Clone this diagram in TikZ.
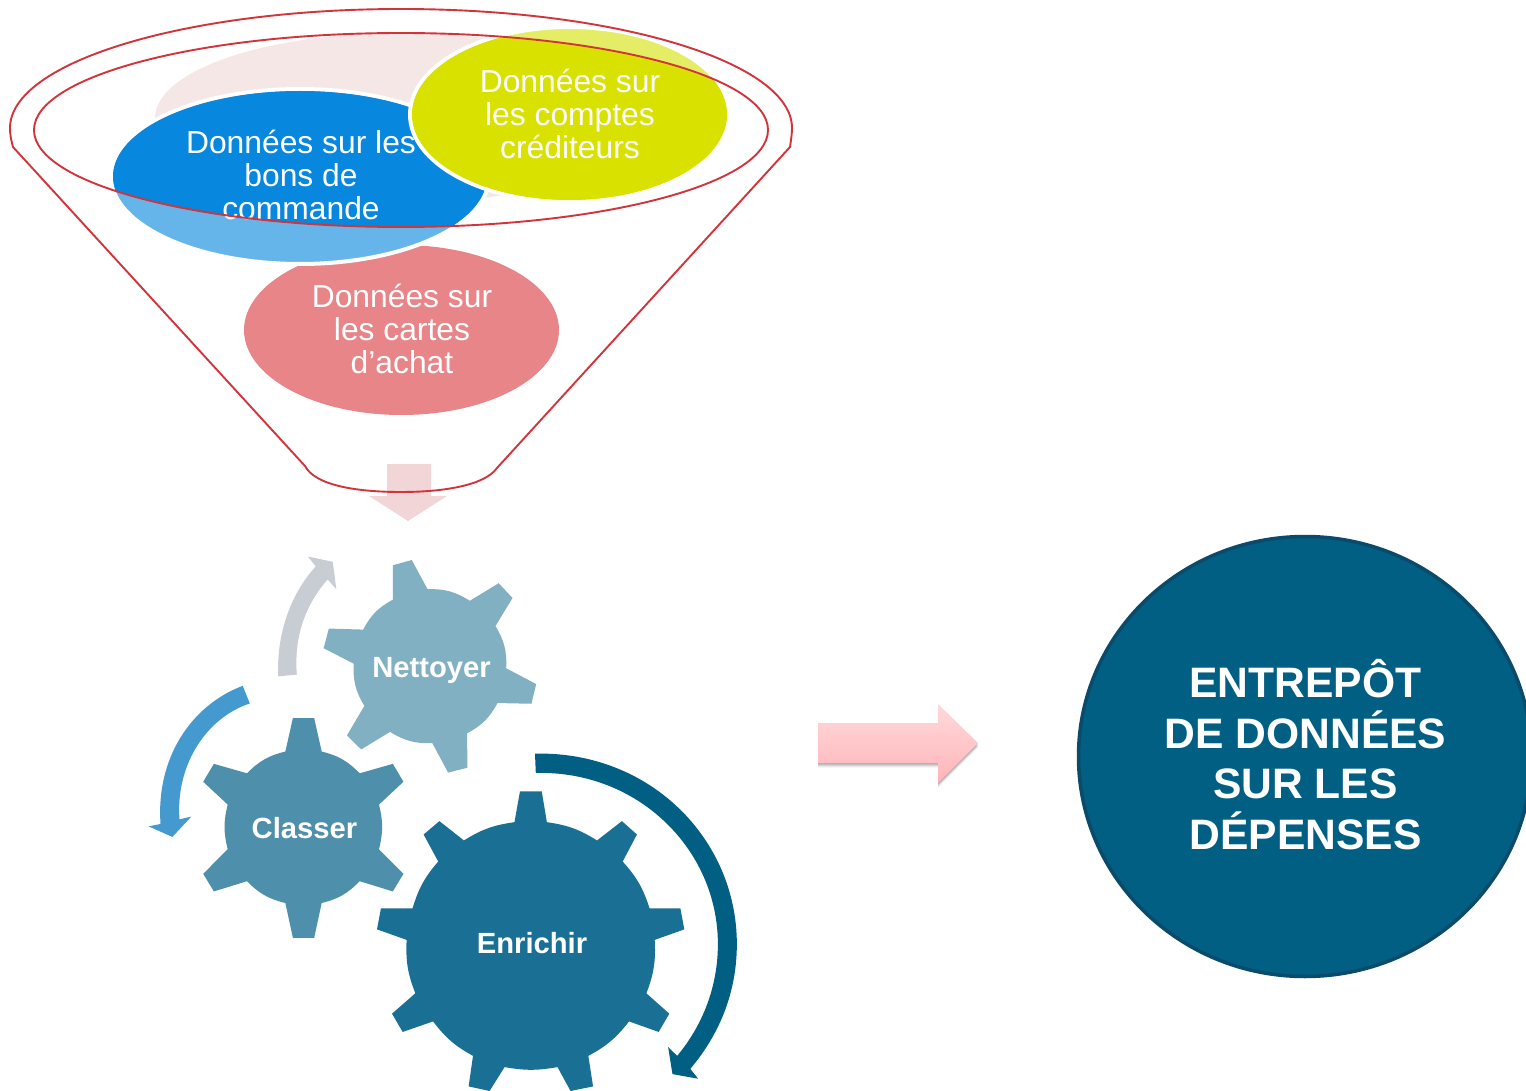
\documentclass[tikz,border=0pt]{standalone}
\usepackage{fontspec}
\setmainfont{Liberation Sans}
\usetikzlibrary{shapes.geometric}
\definecolor{funnelred}{HTML}{D2343C}
\definecolor{paleback}{HTML}{F6E7E7}
\definecolor{palearrow}{HTML}{F2D6D7}
\definecolor{pinkdata}{HTML}{E78588}
\definecolor{bluedata}{HTML}{0787DD}
\definecolor{bluelight}{HTML}{66B5EA}
\definecolor{yellowdata}{HTML}{D9E100}
\definecolor{yellowlight}{HTML}{E5EC66}
\definecolor{gearA}{HTML}{82B0C3}
\definecolor{gearB}{HTML}{4E90AB}
\definecolor{gearC}{HTML}{1A7094}
\definecolor{arrowA}{HTML}{C8CDD4}
\definecolor{arrowB}{HTML}{4499CE}
\definecolor{deepblue}{HTML}{005F83}
\definecolor{deepedge}{HTML}{0A4A6B}
\definecolor{arrowtop}{HTML}{FFD9DA}
\definecolor{arrowbottom}{HTML}{FFB5B9}
\tikzset{
  datatext/.style={text=white,align=center,inner sep=0pt,font=\fontsize{31.8}{33}\selectfont},
  geartext/.style={text=white,inner sep=0pt,font=\fontsize{29.2}{31}\selectfont\bfseries},
  halo/.style={draw=white,line width=4pt},
  funnelline/.style={draw=funnelred,line width=1.9pt,line join=round},
  bigtext/.style={text=white,align=center,inner sep=0pt,font=\fontsize{42.6}{50.5}\selectfont\bfseries}
}
\begin{document}
\begin{tikzpicture}[x=1pt,y=-1pt]
\useasboundingbox (0,0) rectangle (1526,1091);
\clip (0,0) rectangle (1526,1091);
% pale back ellipse
\fill[paleback] (400,118) ellipse [x radius=245,y radius=85];
% pink ellipse
\fill[pinkdata] (401.5,330) ellipse [x radius=157.5,y radius=85];
% blue ellipse
\path[fill=bluelight,halo] (300,176.5) ellipse [x radius=189,y radius=87.5];
\begin{scope}
  \clip (401,130) ellipse [x radius=367,y radius=97];
  \fill[bluedata] (300,176.5) ellipse [x radius=187,y radius=85.5];
\end{scope}
% yellow ellipse
\path[fill=yellowlight,halo] (569.5,114.5) ellipse [x radius=159.5,y radius=87.5];
\begin{scope}
  \clip (401,130) ellipse [x radius=367,y radius=97];
  \fill[yellowdata] (569.5,114.5) ellipse [x radius=157.5,y radius=85.5];
\end{scope}
\node[datatext] (bons) at (301,175) {Données sur les\\bons de\\commande};
\node[datatext] (comptes) at (570,114) {Données sur\\les comptes\\créditeurs};
\node[datatext] (cartes) at (402,329) {Données sur\\les cartes\\d’achat};
% pale down arrow
\fill[palearrow] (387,464) -- (431,464) -- (431,496) -- (447,496) -- (408,521) -- (369,496) -- (387,496) -- cycle;
% funnel
\draw[funnelline] (13,147) .. controls (11,140) and (10,134) .. (10,128)
  arc [start angle=180,end angle=360,x radius=391,y radius=119]
  .. controls (792,134) and (791,140) .. (790,147) -- (497,468)
  .. controls (485,485) and (445,492) .. (401,492)
  .. controls (355,492) and (315,485) .. (305,466) -- cycle;
\draw[funnelline] (401,130) ellipse [x radius=367,y radius=97];
% gears and curved arrows
\begin{scope}[shift={(140,540)},x=0.395pt,y=-0.3514pt,line join=round]
  \fill[gearA] (640,72) -- (688,57) -- (728,140) to[bend left=17] (835,173) -- (908,123) -- (943,165) -- (900,245)
    to[bend left=17] (927,365) -- (1003,410) -- (991,466) -- (905,464)
    to[bend left=17] (828,550) -- (829,648) -- (780,662) -- (740,578)
    to[bend left=17] (633,546) -- (560,596) -- (524,556) -- (568,472)
    to[bend left=17] (541,352) -- (465,308) -- (478,252) -- (565,255)
    to[bend left=17] (640,170) -- cycle;
  \fill[gearB] (387,507) -- (441,507) -- (460,602) to[bend left=16] (556,664) -- (640,637) -- (667,688) -- (605,753)
    to[bend left=14] (605,880) -- (667,950) -- (640,1000) -- (556,971)
    to[bend left=16] (460,1033) -- (441,1132) -- (387,1132) -- (368,1033)
    to[bend left=16] (271,971) -- (187,1000) -- (160,950) -- (222,880)
    to[bend left=14] (222,753) -- (160,688) -- (187,637) -- (271,664)
    to[bend left=16] (368,602) -- cycle;
  \fill[gearC] (962,715) -- (1017,715) -- (1030,803) to[bend left=12] (1157,855) -- (1220,800) -- (1258,838) -- (1222,915)
    to[bend left=12] (1290,1048) -- (1368,1048) -- (1378,1108) -- (1303,1138)
    to[bend left=12] (1282,1290) -- (1340,1348) -- (1313,1400) -- (1238,1370)
    to[bend left=12] (1135,1468) -- (1147,1555) -- (1090,1568) -- (1057,1500)
    to[bend left=10] (923,1500) -- (885,1568) -- (832,1555) -- (843,1468)
    to[bend left=12] (742,1370) -- (665,1400) -- (638,1348) -- (697,1290)
    to[bend left=12] (675,1138) -- (600,1108) -- (610,1048) -- (690,1048)
    to[bend left=12] (755,915) -- (718,838) -- (758,800) -- (820,855)
    to[bend left=12] (948,803) -- cycle;
  \fill[arrowA] (350,388) .. controls (345,270) and (380,155) .. (445,75) -- (425,47) -- (488,62) -- (497,140) -- (475,112)
    .. controls (415,190) and (390,280) .. (397,383) -- cycle;
  \fill[arrowB] (260,415) .. controls (130,470) and (40,620) .. (52,808) -- (22,815) -- (82,845) -- (130,787) -- (100,795)
    .. controls (90,650) and (160,510) .. (278,465) -- cycle;
  \fill[deepblue] (1000,608) .. controls (1290,600) and (1511,850) .. (1511,1150)
    .. controls (1511,1290) and (1465,1410) .. (1393,1505) -- (1413,1533) -- (1348,1520) -- (1337,1443) -- (1360,1468)
    .. controls (1425,1380) and (1463,1270) .. (1463,1150)
    .. controls (1463,880) and (1260,655) .. (1002,663) -- cycle;
\end{scope}
\node[geartext] (nettoyer) at (431.5,670) {Nettoyer};
\node[geartext] (classer) at (304.5,828) {Classer};
\node[geartext] (enrichir) at (532,943) {Enrichir};
% pink right arrow with soft shadow
\foreach \d/\o in {5/0.03,4/0.05,3/0.08,2/0.1,1/0.1}{
  \fill[black,opacity=\o] (818,723+\d) -- (938,723+\d) -- (938,704+\d) -- (978,743+\d) -- (938,783+\d) -- (938,763+\d) -- (818,763+\d) -- cycle;
}
\shade[top color=arrowtop,bottom color=arrowbottom] (818,723) -- (938,723) -- (938,704) -- (978,743) -- (938,783) -- (938,763) -- (818,763) -- cycle;
% big circle
\draw[fill=deepblue,draw=deepedge,line width=3.5pt] (1305,756.5) ellipse [x radius=226.5,y radius=220];
\node[bigtext] (entrepot) at (1305.5,754.5) {ENTREPÔT\\DE DONNÉES\\SUR LES\\DÉPENSES};
\end{tikzpicture}
\end{document}
